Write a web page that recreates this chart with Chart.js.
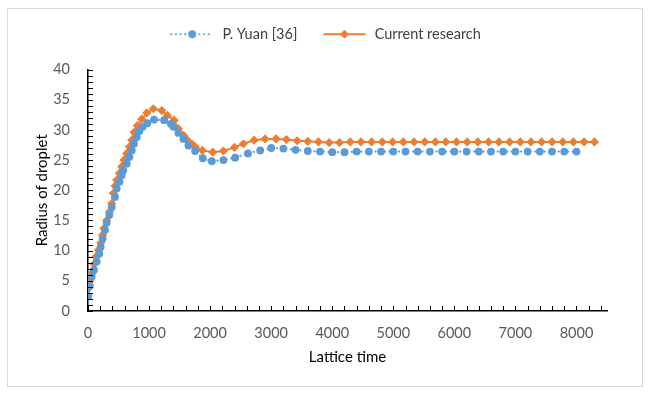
<!DOCTYPE html>
<html>
<head>
<meta charset="utf-8">
<script src="https://cdn.jsdelivr.net/npm/chart.js@4.4.0/dist/chart.umd.min.js"></script>
<style>
  html, body { margin: 0; padding: 0; background: #fff; }
  #wrap { position: relative; width: 650px; height: 395px; }
</style>
</head>
<body>
<div id="wrap"><canvas id="radius-chart" width="650" height="395"></canvas></div>
<script>
// P. Yuan [36]
const yuanTime = [0, 30, 60, 98, 142, 186, 208, 240, 279, 306, 350, 388, 443, 470, 514, 552, 579, 634, 678, 716,
    754, 798, 841, 896, 972, 1082, 1246, 1356, 1400, 1480, 1563, 1645, 1754, 1880, 2028, 2218, 2410, 2620, 2820,
    3000, 3200, 3400, 3600, 3800, 4000, 4200, 4400, 4600, 4800, 5000, 5200, 5400, 5600, 5800, 6000, 6200, 6400,
    6600, 6800, 7000, 7200, 7400, 7600, 7800, 8000];
const yuanRadius = [2.4, 4.2, 5.7, 6.8, 8.2, 9.5, 10.6, 12.0, 13.4, 14.6, 15.9, 17.2, 18.9, 20.3, 21.4, 22.5, 23.3, 24.4, 25.5, 26.6,
    27.7, 28.8, 29.8, 30.5, 31.1, 31.7, 31.6, 31.0, 30.5, 29.5, 28.5, 27.4, 26.5, 25.3, 24.8, 25.0, 25.4, 26.1, 26.6,
    27.0, 26.9, 26.7, 26.5, 26.4, 26.3, 26.3, 26.4, 26.4, 26.4, 26.4, 26.4, 26.4, 26.4, 26.4, 26.4, 26.4, 26.4,
    26.4, 26.4, 26.4, 26.4, 26.4, 26.4, 26.4, 26.4];

// Current research
const currentTime = [0, 15, 30, 60, 100, 130, 170, 210, 240, 262, 306, 350, 388, 415, 443, 470, 514, 552, 590, 634,
    678, 716, 754, 808, 880, 962, 1070, 1208, 1300, 1410, 1480, 1563, 1618, 1700, 1754, 1874, 2044, 2218, 2398, 2546,
    2721, 2900, 3080, 3250, 3425, 3600, 3775, 3950, 4120, 4295, 4470, 4645, 4820, 4990, 5165, 5340, 5515, 5690,
    5860, 6035, 6210, 6385, 6560, 6730, 6905, 7080, 7255, 7430, 7600, 7775, 7950, 8125, 8295];
const currentRadius = [2.6, 3.8, 5.0, 6.2, 7.8, 9.0, 10.1, 11.3, 12.6, 13.7, 15.0, 16.4, 17.8, 19.5, 20.7, 21.7, 22.8, 23.9, 25.0, 26.1,
    27.2, 28.3, 29.6, 30.7, 31.8, 32.8, 33.5, 33.2, 32.4, 31.6, 30.2, 29.1, 28.4, 27.7, 27.2, 26.6, 26.3, 26.5, 27.1, 27.7,
    28.3, 28.5, 28.5, 28.4, 28.2, 28.1, 28.0, 27.9, 27.9, 28.0, 28.0, 28.0, 28.0, 28.0, 28.0, 28.0, 28.0, 28.0,
    28.0, 28.0, 28.0, 28.0, 28.0, 28.0, 28.0, 28.0, 28.0, 28.0, 28.0, 28.0, 28.0, 28.0, 28.0];

const xTickLabels = ['0', '1000', '2000', '3000', '4000', '5000', '6000', '7000', '8000'];
const yTickLabels = ['0', '5', '10', '15', '20', '25', '30', '35', '40'];

const BLUE = '#5B9BD5';
const ORANGE = '#ED7D31';
const FONT = 'Lato, "Liberation Sans", sans-serif';

function toPoints(xs, ys) {
    return xs.map((x, i) => ({ x: x, y: ys[i] }));
}

// legend symbols: short line with the marker in the middle
function legendSymbol(color, dotted, diamond) {
    const c = document.createElement('canvas');
    c.width = 46; c.height = 12;
    const g = c.getContext('2d');
    g.strokeStyle = color;
    g.fillStyle = color;
    g.lineWidth = 2.2;
    g.lineCap = dotted ? 'round' : 'butt';
    if (dotted) g.setLineDash([0.1, 4.6]);
    g.beginPath();
    g.moveTo(2, 6); g.lineTo(44, 6);
    g.stroke();
    g.setLineDash([]);
    g.beginPath();
    if (diamond) {
        g.moveTo(23, 1.5); g.lineTo(27.5, 6); g.lineTo(23, 10.5); g.lineTo(18.5, 6);
        g.closePath();
    } else {
        g.arc(23, 6, 3.9, 0, Math.PI * 2);
    }
    g.fill();
    return c;
}

const frame = {
    id: 'frame',
    beforeDraw(chart) {
        const ctx = chart.ctx;
        ctx.save();
        ctx.strokeStyle = '#d9d9d9';
        ctx.lineWidth = 1;
        ctx.strokeRect(7.5, 8.5, 635, 378);
        ctx.restore();
    }
};

// small tick marks drawn on the inner side of both axes
const innerTicks = {
    id: 'innerTicks',
    afterDatasetsDraw(chart) {
        const ctx = chart.ctx;
        const xs = chart.scales.x, ys = chart.scales.y;
        const area = chart.chartArea;
        ctx.save();
        ctx.strokeStyle = '#000';
        ctx.lineWidth = 1;
        ctx.beginPath();
        for (let v = 0; v < xs.max; v += 200) {
            const px = Math.round(xs.getPixelForValue(v)) + 0.5;
            ctx.moveTo(px, area.bottom);
            ctx.lineTo(px, area.bottom - 5);
        }
        for (let v = 0; v <= ys.max; v += 1) {
            const py = Math.round(ys.getPixelForValue(v)) + 0.5;
            ctx.moveTo(area.left, py);
            ctx.lineTo(area.left + 5, py);
        }
        ctx.stroke();
        ctx.restore();
    }
};

const legendGap = {
    id: 'legendGap',
    beforeInit(chart) {
        const fit = chart.legend.fit;
        chart.legend.fit = function () {
            fit.call(this);
            this.height += 18;
        };
    }
};

const ctx = document.getElementById('radius-chart').getContext('2d');
new Chart(ctx, {
    type: 'scatter',
    data: {
        datasets: [{
            label: 'P. Yuan [36]',
            data: toPoints(yuanTime, yuanRadius),
            showLine: true,
            borderColor: BLUE,
            backgroundColor: BLUE,
            borderWidth: 2.2,
            borderDash: [0.1, 4.6],
            borderCapStyle: 'round',
            pointStyle: 'circle',
            pointRadius: 3.9,
            pointBorderWidth: 0,
            pointBackgroundColor: BLUE,
            tension: 0
        }, {
            label: 'Current research',
            data: toPoints(currentTime, currentRadius),
            showLine: true,
            borderColor: ORANGE,
            backgroundColor: ORANGE,
            borderWidth: 2,
            pointStyle: 'rectRot',
            pointRadius: 4.6,
            pointBorderWidth: 0,
            pointBackgroundColor: ORANGE,
            tension: 0
        }]
    },
    options: {
        responsive: false,
        animation: false,
        layout: { padding: { top: 3, right: 0, bottom: 0, left: 0 } },
        plugins: {
            tooltip: { enabled: false },
            legend: {
                position: 'top',
                labels: {
                    usePointStyle: true,
                    pointStyleWidth: 46,
                    padding: 24,
                    color: '#404040',
                    font: { family: FONT, size: 14.5 },
                    generateLabels(chart) {
                        return chart.data.datasets.map((ds, i) => ({
                            text: ds.label,
                            pointStyle: legendSymbol(ds.borderColor, i === 0, i === 1),
                            fontColor: '#404040',
                            lineWidth: 0,
                            strokeStyle: 'transparent',
                            fillStyle: 'transparent',
                            hidden: false,
                            datasetIndex: i
                        }));
                    }
                }
            }
        },
        scales: {
            x: {
                type: 'linear',
                min: 0,
                max: 8500,
                afterBuildTicks(scale) {
                    scale.ticks = xTickLabels.map(t => ({ value: Number(t) }));
                },
                afterFit(scale) { scale.height = 84; },
                grid: { display: false },
                border: { display: true, color: '#000', width: 1.5 },
                ticks: {
                    color: '#595959',
                    padding: 6,
                    maxRotation: 0,
                    font: { family: FONT, size: 14.5 },
                    callback: (v) => String(v)
                },
                title: {
                    display: true,
                    text: 'Lattice time',
                    color: '#000',
                    font: { family: FONT, size: 15 },
                    padding: { top: 0, bottom: 29 }
                }
            },
            y: {
                type: 'linear',
                min: 0,
                max: 40,
                afterBuildTicks(scale) {
                    scale.ticks = yTickLabels.map(t => ({ value: Number(t) }));
                },
                afterFit(scale) { scale.width = 88; },
                grid: { display: false },
                border: { display: true, color: '#000', width: 1.5 },
                ticks: {
                    color: '#595959',
                    padding: 10,
                    font: { family: FONT, size: 14.5 },
                    callback: (v) => String(v)
                },
                title: {
                    display: true,
                    text: 'Radius of droplet',
                    color: '#000',
                    font: { family: FONT, size: 15 },
                    padding: { top: 33, bottom: 0 }
                }
            },
            // empty right-hand box that keeps the plot clear of the right edge
            spacer: {
                type: 'linear',
                position: 'right',
                min: 0,
                max: 40,
                afterFit(scale) { scale.width = 43; },
                grid: { display: false },
                border: { display: false },
                ticks: { display: false }
            }
        }
    },
    plugins: [frame, innerTicks, legendGap]
});
</script>
</body>
</html>
